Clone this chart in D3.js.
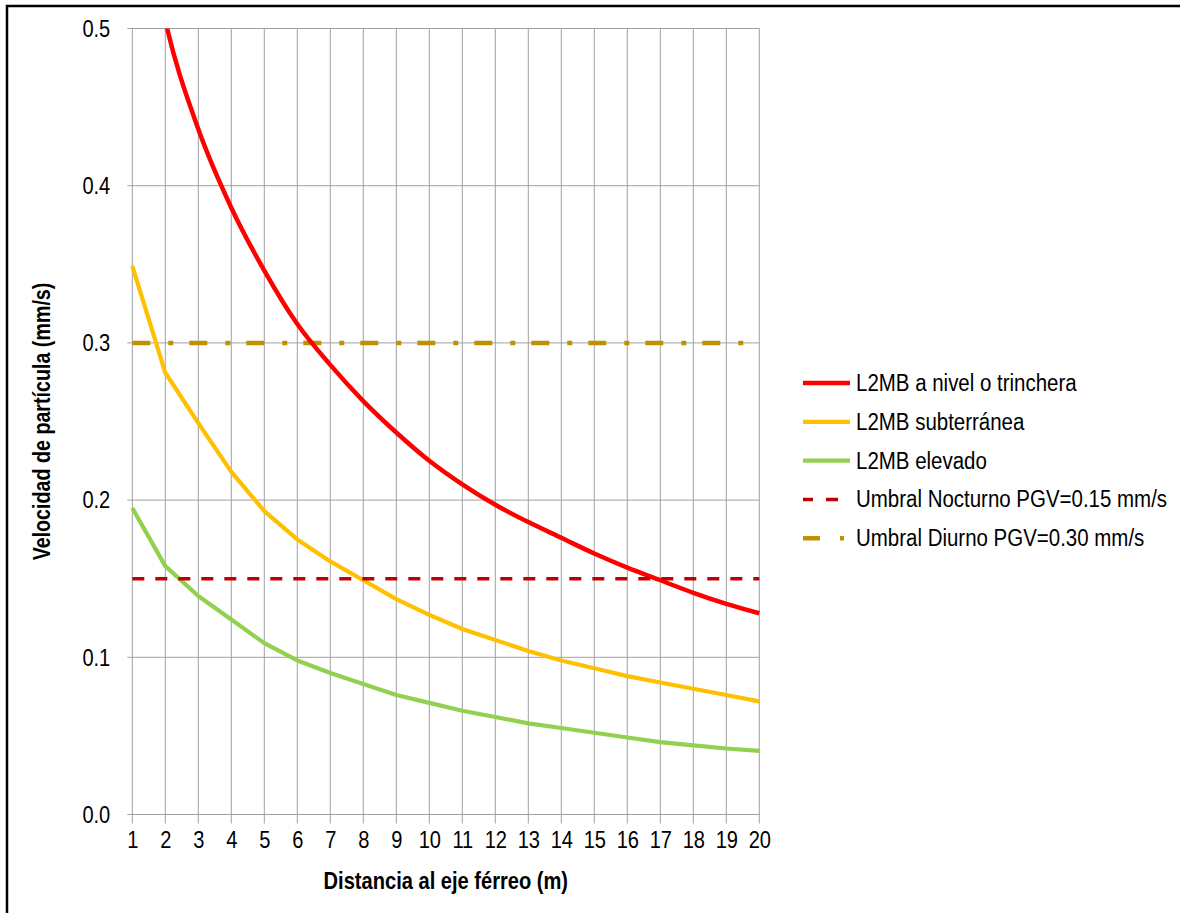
<!DOCTYPE html>
<html>
<head>
<meta charset="utf-8">
<script src="https://cdn.jsdelivr.net/npm/d3@7"></script>
<style>
  html, body { margin: 0; padding: 0; background: #fff; }
  svg { display: block; }
  text { font-family: "Liberation Sans", Arial, sans-serif; fill: #000; }
</style>
</head>
<body>
<svg id="chart" width="1180" height="913"></svg>
<script>
// ---- data ----
const distances = [1,2,3,4,5,6,7,8,9,10,11,12,13,14,15,16,17,18,19,20];
const yTicks = [0.0, 0.1, 0.2, 0.3, 0.4, 0.5];
const nivelTrinchera = [0.62, 0.505, 0.436, 0.386, 0.346, 0.312, 0.286, 0.263, 0.243, 0.225, 0.210, 0.197, 0.186, 0.176, 0.166, 0.157, 0.149, 0.141, 0.134, 0.128];
const subterranea   = [0.349, 0.281, 0.249, 0.218, 0.193, 0.175, 0.161, 0.149, 0.137, 0.127, 0.118, 0.111, 0.104, 0.098, 0.093, 0.088, 0.084, 0.080, 0.076, 0.072];
const elevado       = [0.195, 0.158, 0.139, 0.124, 0.109, 0.098, 0.090, 0.083, 0.076, 0.071, 0.066, 0.062, 0.058, 0.055, 0.052, 0.049, 0.046, 0.044, 0.042, 0.0405];
const umbralNocturno = 0.15;
const umbralDiurno = 0.30;
const seriesNames = ["L2MB a nivel o trinchera", "L2MB subterránea", "L2MB elevado", "Umbral Nocturno PGV=0.15 mm/s", "Umbral Diurno PGV=0.30 mm/s"];
const xTitle = "Distancia al eje férreo (m)";
const yTitle = "Velocidad de partícula (mm/s)";

// ---- layout ----
const svg = d3.select("#chart");
const W = 1180, H = 913;
const plot = { left: 132.3, right: 759.3, top: 28.5, bottom: 814.5 };
const NARROW = 0.82; // emulate Arial Narrow with horizontally compressed Liberation Sans

function narrow(sel, k = NARROW) {
  sel.each(function () {
    const t = d3.select(this);
    const tx = +t.attr("x") || 0, ty = +t.attr("y") || 0;
    t.attr("x", null).attr("y", null)
     .attr("transform", `translate(${tx},${ty}) scale(${k},1)`);
  });
}

// outer frame (top & left visible)
svg.append("path")
  .attr("d", `M7,${H + 5} L7,6 L${W + 5},6`)
  .attr("fill", "none").attr("stroke", "#000").attr("stroke-width", 2.5);

const x = d3.scaleLinear().domain([1, 20]).range([plot.left, plot.right]);
const y = d3.scaleLinear().domain([0, 0.5]).range([plot.bottom, plot.top]);

const gridColor = "#a0a0a0";

// horizontal gridlines (extend 5px left as tick marks)
svg.append("g").selectAll("line").data(yTicks).join("line")
  .attr("x1", plot.left - 5).attr("x2", plot.right)
  .attr("y1", d => y(d)).attr("y2", d => y(d))
  .attr("stroke", gridColor).attr("stroke-width", 1);

// vertical gridlines (extend 9px below as tick marks)
svg.append("g").selectAll("line").data(distances).join("line")
  .attr("x1", d => x(d)).attr("x2", d => x(d))
  .attr("y1", plot.top).attr("y2", plot.bottom + 9)
  .attr("stroke", gridColor).attr("stroke-width", 1);

// y axis labels
const yAx = svg.append("g").attr("transform", `translate(${plot.left},0)`)
  .call(d3.axisLeft(y).tickValues(yTicks).tickFormat(d3.format(".1f")).tickSize(5).tickPadding(17));
yAx.select(".domain").remove();
yAx.selectAll(".tick line").remove();
yAx.attr("font-family", null).attr("font-size", null);
yAx.selectAll("text").attr("font-size", 24.5).attr("fill", "#000").call(narrow);

// x axis labels
const xAx = svg.append("g").attr("transform", `translate(0,${plot.bottom})`)
  .call(d3.axisBottom(x).tickValues(distances).tickFormat(d3.format("d")).tickSize(9).tickPadding(7));
xAx.select(".domain").remove();
xAx.selectAll(".tick line").remove();
xAx.attr("font-family", null).attr("font-size", null);
xAx.selectAll("text").attr("font-size", 24.5).attr("fill", "#000").call(narrow);

// clip
svg.append("defs").append("clipPath").attr("id", "plotclip")
  .append("rect").attr("x", plot.left - 10).attr("y", plot.top).attr("width", plot.right - plot.left + 20).attr("height", plot.bottom - plot.top);

const line = d3.line().x(d => x(d[0])).y(d => y(d[1]));
const smooth = d3.line().x(d => x(d[0])).y(d => y(d[1])).curve(d3.curveMonotoneX);
const gLines = svg.append("g").attr("clip-path", "url(#plotclip)");

// thresholds
const diurnoStyle = { color: "#BF9000", width: 4.5, dash: "18,18,5,16" };
const nocturnoStyle = { color: "#C00000", width: 3.5, dash: "12,11" };

gLines.append("path").datum(distances.map(d => [d, umbralDiurno]))
  .attr("d", line).attr("fill", "none").attr("stroke", diurnoStyle.color)
  .attr("stroke-width", diurnoStyle.width).attr("stroke-dasharray", diurnoStyle.dash);

const series = [
  { name: seriesNames[0], values: nivelTrinchera, color: "#FF0000", width: 4.5, gen: smooth },
  { name: seriesNames[1], values: subterranea, color: "#FFC000", width: 4.2, gen: line },
  { name: seriesNames[2], values: elevado, color: "#92D050", width: 4.2, gen: line },
];
series.slice().reverse().forEach(s => {
  gLines.append("path").datum(distances.map((d, i) => [d, s.values[i]]))
    .attr("d", s.gen).attr("fill", "none").attr("stroke", s.color)
    .attr("stroke-width", s.width).attr("stroke-linejoin", "round");
});

gLines.append("path").datum(distances.map(d => [d, umbralNocturno]))
  .attr("d", line).attr("fill", "none").attr("stroke", nocturnoStyle.color)
  .attr("stroke-width", nocturnoStyle.width).attr("stroke-dasharray", nocturnoStyle.dash);

// axis titles
svg.append("text").attr("x", (plot.left + plot.right) / 2).attr("y", 889)
  .attr("text-anchor", "middle").attr("font-size", 24.5).attr("font-weight", "bold").text(xTitle).call(narrow);
svg.append("text").attr("transform", `translate(50,${(plot.top + plot.bottom) / 2}) rotate(-90) scale(${NARROW},1)`)
  .attr("text-anchor", "middle").attr("font-size", 24).attr("font-weight", "bold").text(yTitle);

// legend
const legendItems = [
  { name: seriesNames[0], color: "#FF0000", width: 4.5, dash: null },
  { name: seriesNames[1], color: "#FFC000", width: 4.2, dash: null },
  { name: seriesNames[2], color: "#92D050", width: 4.2, dash: null },
  { name: seriesNames[3], color: nocturnoStyle.color, width: nocturnoStyle.width, dash: "10,13,12,100" },
  { name: seriesNames[4], color: diurnoStyle.color, width: diurnoStyle.width, dash: "17,20,4,100" },
];
const lg = svg.append("g").attr("transform", "translate(803,383)");
legendItems.forEach((it, i) => {
  const row = lg.append("g").attr("transform", `translate(0,${i * 38.8})`);
  row.append("line").attr("x1", 0).attr("x2", 47).attr("y1", 0).attr("y2", 0)
    .attr("stroke", it.color).attr("stroke-width", it.width)
    .attr("stroke-dasharray", it.dash);
  row.append("text").attr("x", 53).attr("y", 0).attr("dy", "0.35em")
    .attr("font-size", 23).text(it.name).call(narrow, 0.89);
});
</script>
</body>
</html>
